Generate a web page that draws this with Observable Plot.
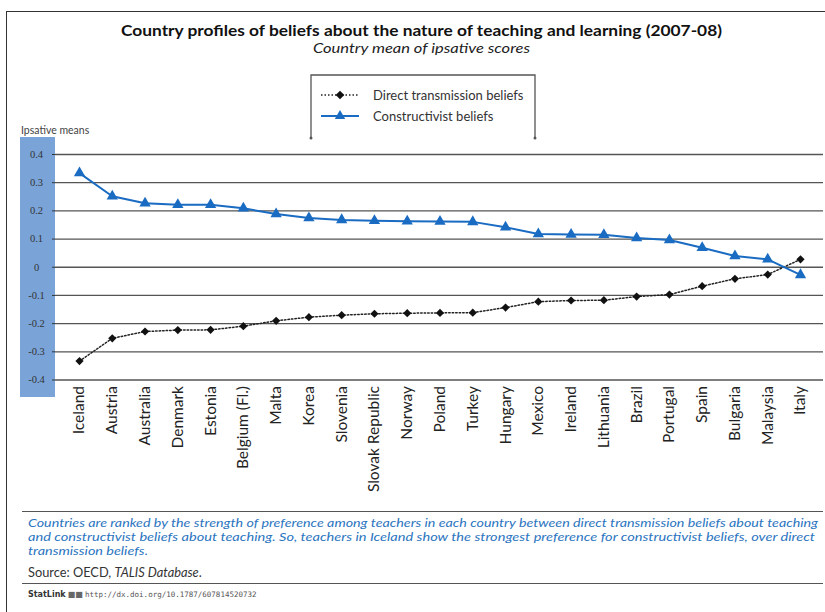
<!DOCTYPE html>
<html>
<head>
<meta charset="utf-8">
<script src="https://cdn.jsdelivr.net/npm/d3@7"></script>
<script src="https://cdn.jsdelivr.net/npm/@observablehq/plot@0.6"></script>
<style>
  html, body { margin: 0; padding: 0; background: #fff; }
  #page { position: relative; width: 825px; height: 612px; overflow: hidden; font-family: Lato, "Open Sans", sans-serif; color: #222; }
  .abs { position: absolute; }
  #border-top { left: 7px; top: 11px; width: 818px; height: 0; border-top: 1.5px solid #333; }
  #border-left { left: 6px; top: 11px; width: 0; height: 610px; border-left: 1.5px solid #333; }
  #ylabel { left: 21px; top: 124px; font-size: 10.5px; color: #444; }
  #band { left: 20px; top: 137px; width: 35px; height: 260px; background: #7aa3d8; }
  #chart { left: 0; top: 130px; }
  #sep1 { left: 22px; top: 511px; width: 801px; border-top: 1.5px solid #555; }
  #source { left: 28px; top: 564px; font-size: 12.8px; color: #333; }
  #sep2 { left: 22px; top: 583px; width: 801px; border-top: 1.5px solid #555; }
  #statlink { left: 28px; top: 589px; font-size: 8px; color: #555; }
  #statlink b { color: #333; font-family: "DejaVu Sans", sans-serif; font-size: 8px; }
  #statlink span { font-family: "DejaVu Sans Mono", monospace; font-size: 7.5px; }
  #overlay { left: 0; top: 0; pointer-events: none; }
</style>
</head>
<body>
<div id="page">
  <div id="border-top" class="abs"></div>
  <div id="border-left" class="abs"></div>
  <div id="ylabel" class="abs">Ipsative means</div>
  <div id="band" class="abs"></div>
  <div id="chart" class="abs"></div>
  <div id="sep1" class="abs"></div>
  <div id="source" class="abs">Source: OECD, <i>TALIS Database</i>.</div>
  <div id="sep2" class="abs"></div>
  <div id="statlink" class="abs"><b>StatLink</b> <b style="color:#666">&#9632;&#9632;</b> <span>http://dx.doi.org/10.1787/607814520732</span></div>
  <div id="overlay" class="abs"></div>
</div>
<script>
// ---- data ----
const countries = ["Iceland","Austria","Australia","Denmark","Estonia","Belgium (Fl.)","Malta","Korea","Slovenia","Slovak Republic","Norway","Poland","Turkey","Hungary","Mexico","Ireland","Lithuania","Brazil","Portugal","Spain","Bulgaria","Malaysia","Italy"];
const constructivist = [0.334,0.252,0.227,0.222,0.222,0.209,0.189,0.175,0.168,0.165,0.163,0.162,0.161,0.142,0.118,0.116,0.115,0.104,0.097,0.069,0.040,0.028,-0.027];
const directTransmission = [-0.333,-0.252,-0.228,-0.223,-0.222,-0.209,-0.190,-0.177,-0.170,-0.165,-0.163,-0.162,-0.161,-0.143,-0.122,-0.118,-0.117,-0.104,-0.097,-0.067,-0.041,-0.026,0.028];
const yTicks = [0.4,0.3,0.2,0.1,0,-0.1,-0.2,-0.3,-0.4];
const yTickLabels = ["0.4","0.3","0.2","0.1","0","-0.1","-0.2","-0.3","-0.4"];
const seriesNames = ["Direct transmission beliefs","Constructivist beliefs"];
const titleText = "Country profiles of beliefs about the nature of teaching and learning (2007-08)";
const subtitleText = "Country mean of ipsative scores";
const captionLines = [
  "Countries are ranked by the strength of preference among teachers in each country between direct transmission beliefs about teaching",
  "and constructivist beliefs about teaching. So, teachers in Iceland show the strongest preference for constructivist beliefs, over direct",
  "transmission beliefs."
];

const cons = countries.map((c, i) => ({country: c, value: constructivist[i]}));
const direct = countries.map((c, i) => ({country: c, value: directTransmission[i]}));

const BLUE = "#1a6bc2";

const chart = Plot.plot({
  width: 825,
  height: 380,
  marginLeft: 55,
  marginRight: 2,
  marginTop: 24,
  marginBottom: 130.5,
  style: {background: "transparent", fontFamily: "Lato, sans-serif"},
  x: {type: "point", domain: countries, range: [79, 800], padding: 0, round: false, label: null},
  y: {domain: [-0.4, 0.4], label: null},
  marks: [
    Plot.ruleY(yTicks, {stroke: "#555", strokeWidth: 1.3}),
    Plot.axisY({anchor: "left", label: null, ticks: yTicks, tickFormat: (d) => yTickLabels[yTicks.indexOf(d)], tickSize: 3, tickPadding: 16, textAnchor: "middle", fontSize: 10.5, fontFamily: "Liberation Serif, serif", fill: "#333", stroke: "#333"}),
    Plot.axisX({anchor: "bottom", label: null, tickSize: 0, tickPadding: 6, tickRotate: -90, fontSize: 15.5, fontFamily: "Lato, sans-serif", fill: "#222"}),
    Plot.line(direct, {x: "country", y: "value", stroke: "#222", strokeWidth: 1.5, strokeDasharray: "1.5 2"}),
    Plot.line(cons, {x: "country", y: "value", stroke: BLUE, strokeWidth: 2}),
    Plot.dot(direct, {x: "country", y: "value", symbol: "diamond2", r: 3.7, fill: "#111", stroke: "none"}),
    Plot.dot(cons, {x: "country", y: "value", symbol: "triangle", r: 4.2, fill: BLUE, stroke: "none"})
  ]
});
document.getElementById("chart").appendChild(chart);

// ---- overlay: titles, legend, caption ----
const ov = d3.select("#overlay").append("svg").attr("width", 825).attr("height", 612)
  .style("display", "block").attr("font-family", "Lato, sans-serif");

ov.append("text").attr("x", 421.5).attr("y", 30.5).attr("dy", "0.35em").attr("text-anchor", "middle")
  .attr("font-size", 16).attr("font-weight", "bold").attr("fill", "#111")
  .attr("textLength", 601).attr("lengthAdjust", "spacingAndGlyphs").text(titleText);
ov.append("text").attr("x", 421.5).attr("y", 48.5).attr("dy", "0.35em").attr("text-anchor", "middle")
  .attr("font-size", 14).attr("font-style", "italic").attr("fill", "#222")
  .attr("textLength", 217).attr("lengthAdjust", "spacingAndGlyphs").text(subtitleText);

// legend
ov.append("path").attr("d", "M311,138 V75 H535 V138").attr("fill", "none").attr("stroke", "#555").attr("stroke-width", 1.3);
ov.append("circle").attr("cx", 311).attr("cy", 138).attr("r", 1.5).attr("fill", "#555");
ov.append("circle").attr("cx", 535).attr("cy", 138).attr("r", 1.5).attr("fill", "#555");
const rows = [
  {name: seriesNames[0], y: 95, stroke: "#222", dash: "1.5 2", sym: d3.symbolDiamond2, fill: "#111", w: 1.5},
  {name: seriesNames[1], y: 116, stroke: BLUE, dash: null, sym: d3.symbolTriangle, fill: BLUE, w: 2}
];
for (const r of rows) {
  ov.append("line").attr("x1", 321).attr("x2", 359).attr("y1", r.y).attr("y2", r.y)
    .attr("stroke", r.stroke).attr("stroke-width", r.w).attr("stroke-dasharray", r.dash);
  ov.append("path").attr("d", d3.symbol(r.sym, Math.PI * 15)()).attr("transform", `translate(340,${r.y})`).attr("fill", r.fill);
  ov.append("text").attr("x", 373).attr("y", r.y).attr("dy", "0.35em").attr("font-size", 13).attr("fill", "#333").text(r.name);
}

// caption
const capY = [523, 537, 551];
const capLen = [790, 787, 120];
captionLines.forEach((t, i) => {
  ov.append("text").attr("x", 28).attr("y", capY[i]).attr("dy", "0.35em")
    .attr("font-size", 11.6).attr("font-style", "italic").attr("fill", "#2a74c0")
    .attr("textLength", capLen[i]).attr("lengthAdjust", "spacingAndGlyphs").text(t);
});
</script>
</body>
</html>
